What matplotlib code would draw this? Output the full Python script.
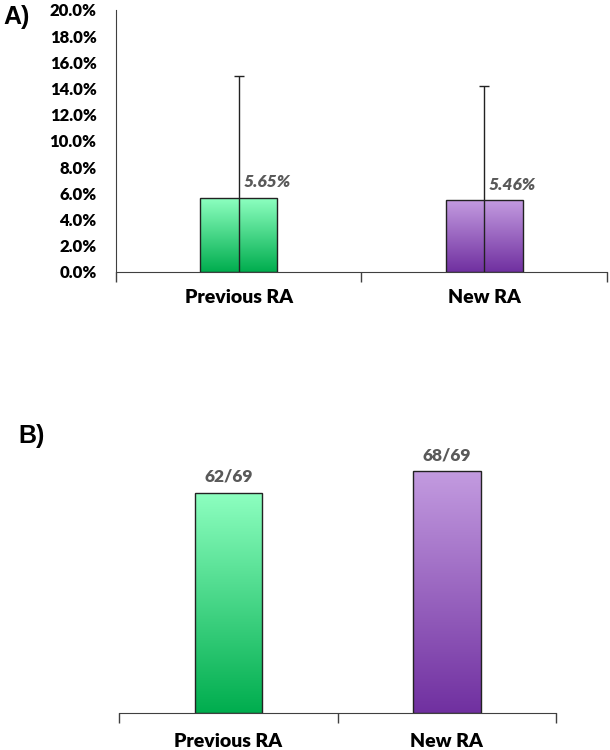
import matplotlib
matplotlib.use("Agg")
import matplotlib.pyplot as plt
import numpy as np
from matplotlib.colors import LinearSegmentedColormap

categories = ["Previous RA", "New RA"]
rates_pct = [5.65, 5.46]
rate_err = [9.29, 8.72]
rate_labels = ["5.65%", "5.46%"]
success_num = [62, 68]
success_den = [69, 69]
yticks_a = [0, 2, 4, 6, 8, 10, 12, 14, 16, 18, 20]

top_colors = ["#8DFFC0", "#C39BE0"]
bot_colors = ["#00AD4E", "#7030A0"]

FONT = "Lato"
HW = "heavy"

fig = plt.figure(figsize=(6.1, 7.5), dpi=100)

def gradient_bars(ax, bars):
    for b, tc, bc in zip(bars, top_colors, bot_colors):
        cmap = LinearSegmentedColormap.from_list("g", [bc, tc])
        x0, y0 = b.get_x(), b.get_y()
        w, h = b.get_width(), b.get_height()
        grad = np.linspace(0, 1, 256).reshape(-1, 1)
        im = ax.imshow(grad, cmap=cmap, origin="lower", aspect="auto",
                       extent=[x0, x0 + w, y0, y0 + h], zorder=1)
        im.set_clip_path(b)
        b.set_facecolor("none")
        b.set_zorder(2)

def style_xaxis(ax, label_y):
    ax.set_xlim(-0.5, 1.5)
    ax.set_xticks([-0.5, 0.5, 1.5])
    ax.set_xticklabels([])
    ax.tick_params(axis="x", direction="out", length=7, width=1, color="#404040")
    for i, c in enumerate(categories):
        ax.text(i, label_y, c, transform=ax.get_xaxis_transform(), ha="center", va="center",
                fontsize=14, fontweight=HW, family=FONT, color="black")
    ax.spines["top"].set_visible(False)
    ax.spines["right"].set_visible(False)
    ax.spines["bottom"].set_color("#404040")

# Panel A
axA = fig.add_axes([116 / 610, 1 - 271.7 / 750, (606.7 - 116) / 610, (271.7 - 10) / 750])
x = np.arange(len(categories))
barsA = axA.bar(x, rates_pct, width=0.314, edgecolor="#222222", linewidth=1)
gradient_bars(axA, barsA)
axA.errorbar(x, rates_pct, yerr=rate_err, fmt="none", ecolor="#222222", elinewidth=1,
             capsize=3.5, capthick=1, zorder=3)
axA.set_ylim(0, 20)
axA.set_yticks(yticks_a)
axA.set_yticklabels([f"{v:.1f}%" for v in yticks_a], fontsize=12, fontweight=HW,
                    family=FONT)
axA.tick_params(axis="y", length=0, pad=14)
axA.spines["left"].set_color("#404040")
style_xaxis(axA, -0.10)
for i, (v, lab) in enumerate(zip(rates_pct, rate_labels)):
    axA.text(i + 0.02, v + 1.2, lab, ha="left", va="center", fontsize=12.5,
             fontweight=HW, style="italic", family=FONT, color="#595959")
fig.text(3 / 610, 1 - 17 / 750, "A)", fontsize=18, fontweight="bold",
         family="Liberation Sans", ha="left", va="center")

# Panel B
pct_b = [n / d * 100 for n, d in zip(success_num, success_den)]
axB = fig.add_axes([119.3 / 610, 1 - 712.7 / 750, (556 - 119.3) / 610, 270 / 750])
barsB = axB.bar(x, pct_b, width=0.31, edgecolor="#222222", linewidth=1)
gradient_bars(axB, barsB)
axB.set_ylim(0, 270 / 2.448)
axB.spines["left"].set_visible(False)
axB.set_yticks([])
style_xaxis(axB, -0.105)
for i, (n, d, v) in enumerate(zip(success_num, success_den, pct_b)):
    axB.text(i, v + 6.5, f"{n}/{d}", ha="center", va="center", fontsize=12.5,
             fontweight=HW, family=FONT, color="#595959")
fig.text(18 / 610, 1 - 436 / 750, "B)", fontsize=18, fontweight="bold",
         family="Liberation Sans", ha="left", va="center")

fig.savefig("out.png", dpi=100)
